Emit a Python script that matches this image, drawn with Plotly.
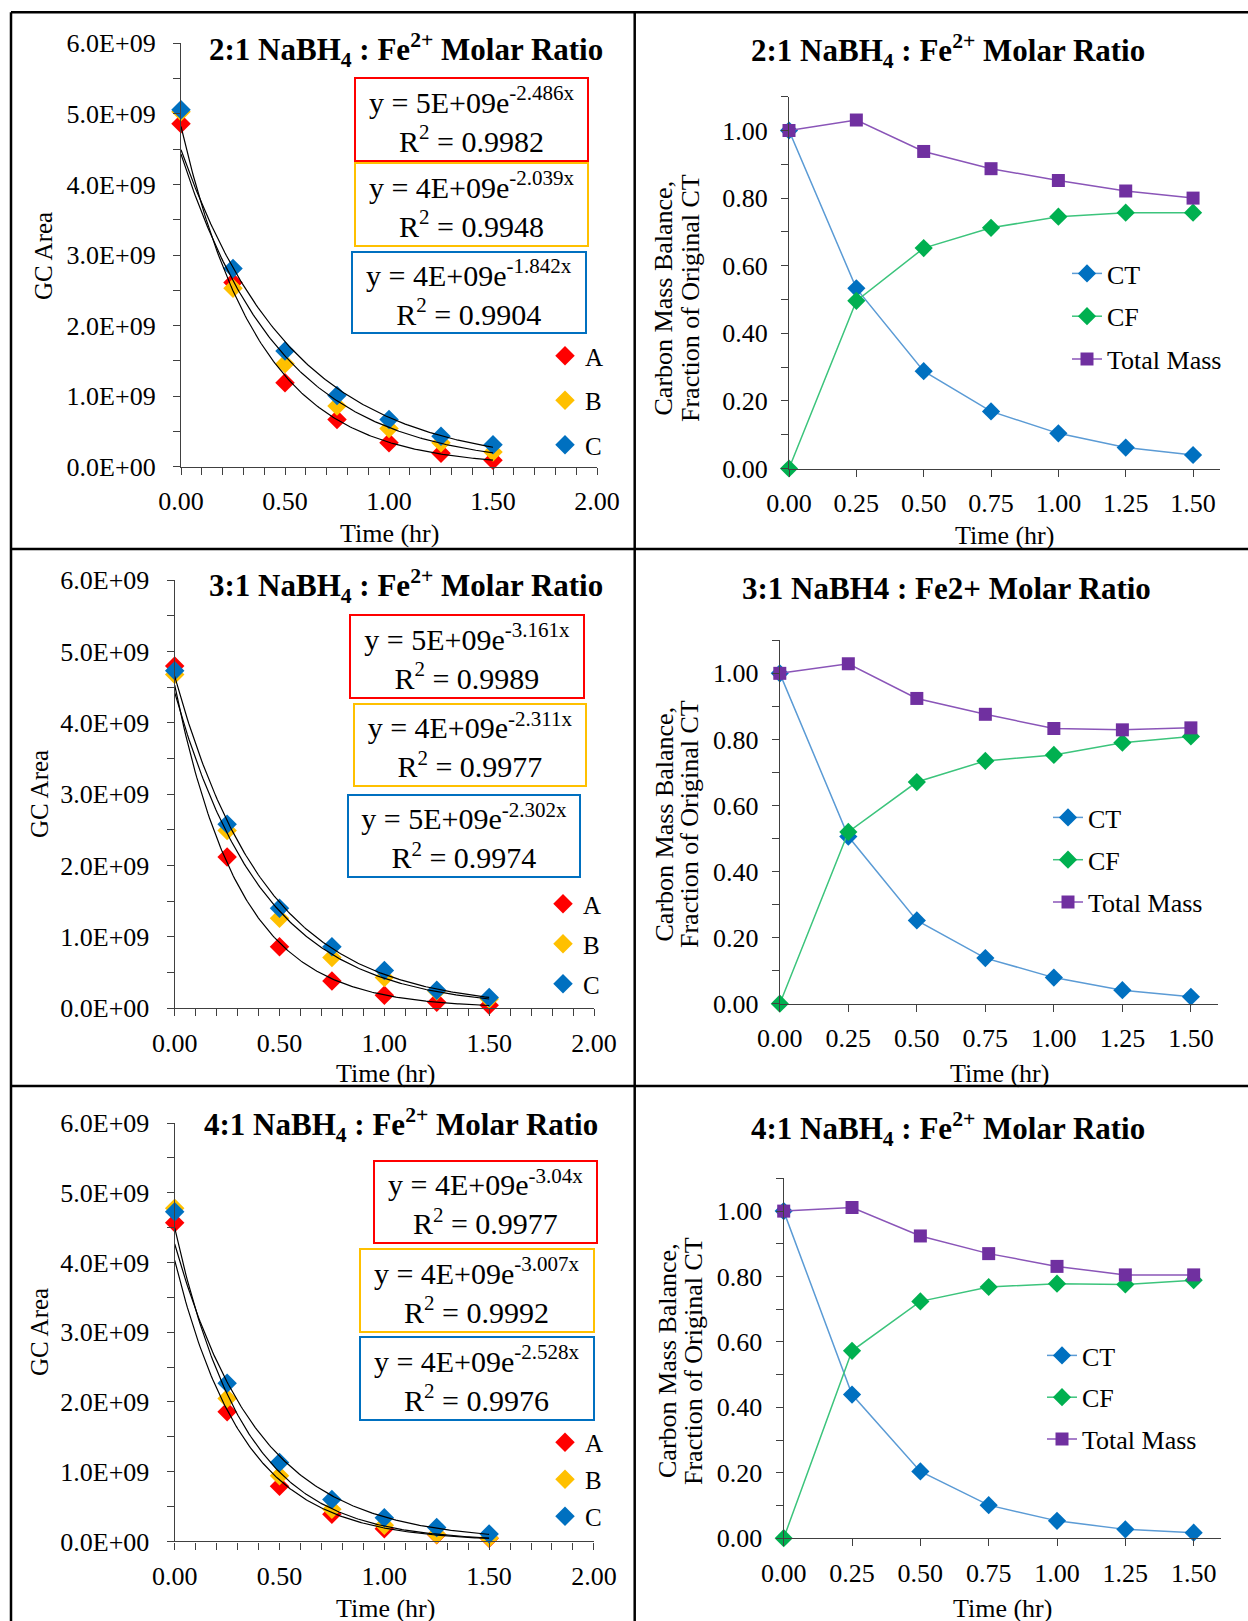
import numpy as np
import plotly.graph_objects as go

W, H = 1248, 1621
FONT = "Liberation Serif, Times New Roman, serif"

# ---------------- data ----------------
time_hr = [0.0, 0.25, 0.5, 0.75, 1.0, 1.25, 1.5]
series_names = ["A", "B", "C"]
series_colors = ["#FF0000", "#FFC000", "#0070C0"]

# GC area, 2:1 NaBH4:Fe2+
gc21_A = [4.86e9, 2.61e9, 1.19e9, 0.67e9, 0.34e9, 0.19e9, 0.09e9]
gc21_B = [5.03e9, 2.53e9, 1.46e9, 0.86e9, 0.54e9, 0.34e9, 0.21e9]
gc21_C = [5.06e9, 2.81e9, 1.64e9, 1.01e9, 0.67e9, 0.43e9, 0.31e9]
# GC area, 3:1
gc31_A = [4.80e9, 2.12e9, 0.86e9, 0.38e9, 0.18e9, 0.085e9, 0.04e9]
gc31_B = [4.68e9, 2.49e9, 1.26e9, 0.71e9, 0.43e9, 0.24e9, 0.13e9]
gc31_C = [4.73e9, 2.58e9, 1.40e9, 0.86e9, 0.53e9, 0.25e9, 0.15e9]
# GC area, 4:1
gc41_A = [4.57e9, 1.86e9, 0.79e9, 0.39e9, 0.18e9, 0.095e9, 0.045e9]
gc41_B = [4.78e9, 2.05e9, 0.94e9, 0.46e9, 0.23e9, 0.10e9, 0.05e9]
gc41_C = [4.73e9, 2.27e9, 1.13e9, 0.60e9, 0.34e9, 0.20e9, 0.105e9]

# trendline equation labels (as printed on the chart)
eq21 = [("5E+09", "-2.486x", "0.9982"), ("4E+09", "-2.039x", "0.9948"), ("4E+09", "-1.842x", "0.9904")]
eq31 = [("5E+09", "-3.161x", "0.9989"), ("4E+09", "-2.311x", "0.9977"), ("5E+09", "-2.302x", "0.9974")]
eq41 = [("4E+09", "-3.04x", "0.9977"), ("4E+09", "-3.007x", "0.9992"), ("4E+09", "-2.528x", "0.9976")]

# Carbon mass balance (fraction of original CT)
mb_names = ["CT", "CF", "Total Mass"]
mb21_CT = [1.0, 0.533, 0.288, 0.169, 0.104, 0.062, 0.040]
mb21_CF = [0.0, 0.496, 0.652, 0.712, 0.745, 0.757, 0.757]
mb21_TM = [1.0, 1.031, 0.938, 0.887, 0.852, 0.821, 0.800]
mb31_CT = [1.0, 0.506, 0.252, 0.138, 0.079, 0.041, 0.021]
mb31_CF = [0.0, 0.520, 0.671, 0.735, 0.753, 0.790, 0.809]
mb31_TM = [1.0, 1.029, 0.924, 0.876, 0.833, 0.829, 0.835]
mb41_CT = [1.0, 0.439, 0.204, 0.101, 0.053, 0.027, 0.017]
mb41_CF = [0.0, 0.573, 0.724, 0.768, 0.778, 0.776, 0.789]
mb41_TM = [1.0, 1.011, 0.924, 0.870, 0.831, 0.805, 0.805]

gc_titles = ["<b>2:1 NaBH<sub>4</sub> : Fe<sup>2+</sup> Molar Ratio</b>",
             "<b>3:1 NaBH<sub>4</sub> : Fe<sup>2+</sup> Molar Ratio</b>",
             "<b>4:1 NaBH<sub>4</sub> : Fe<sup>2+</sup> Molar Ratio</b>"]
mb_titles = ["<b>2:1 NaBH<sub>4</sub> : Fe<sup>2+</sup> Molar Ratio</b>",
             "<b>3:1 NaBH4 : Fe2+ Molar Ratio</b>",
             "<b>4:1 NaBH<sub>4</sub> : Fe<sup>2+</sup> Molar Ratio</b>"]
gc_yticks = [0, 1e9, 2e9, 3e9, 4e9, 5e9, 6e9]
gc_yticktext = ["%.1E" % v for v in gc_yticks]
mb_ytitle_lines = ["Carbon Mass Balance,", "Fraction of Original CT"]

# ---------------- layout geometry (pixels) ----------------
def fx(px):
    return px / W

def fy(py):
    return 1 - py / H

# plot areas: x-left, x-right, y-bottom, y-top (pixels)
gc_boxes = [(181, 597, 466.7, 43.3), (174.7, 594, 1008.2, 580.3), (174.7, 593.9, 1541.4, 1123.1)]
mb_boxes = [(789, 1220, 468.5, 96.7), (779.8, 1218.3, 1003.7, 640.3), (783.7, 1221, 1538.2, 1178.4)]

gc_title_pos = [(406, 50), (406, 586), (401, 1125)]
mb_title_pos = [(948, 51), (946, 588), (948, 1129)]
gc_ytitle_pos = [(43, 256), (39, 794), (39, 1332)]
gc_xtitle_pos = [(389, 533), (385, 1073), (385, 1608)]
mb_ytitle_pos = [((663.5, 691), 298), ((663.5, 689), 824), ((667, 693), 1361)]
mb_xtitle_pos = [(1004, 535), (999, 1073), (1002, 1608)]
eq_boxes = [
    [(354.3, 587.8, 77.9, 160.6), (354.3, 587.8, 163.4, 246.2), (351.8, 585.7, 251.8, 333.2)],
    [(350.2, 584.5, 614.7, 697.8), (353.5, 585.7, 703.8, 786.2), (348.2, 580.4, 795.0, 876.7)],
    [(373.5, 596.7, 1161.1, 1243.2), (360.4, 593.9, 1249.1, 1331.9), (360.4, 593.9, 1337.1, 1419.9)],
]
gc_leg_pos = [(545, 333), (543, 881), (545, 1419.5)]
gc_leg_gap = [9, 4.5, 1.5]
mb_leg_pos = [(1067, 250), (1048, 794), (1042, 1332)]
mb_leg_gap = [6, 5.5, 5]

gc_data = [[gc21_A, gc21_B, gc21_C], [gc31_A, gc31_B, gc31_C], [gc41_A, gc41_B, gc41_C]]
mb_data = [[mb21_CT, mb21_CF, mb21_TM], [mb31_CT, mb31_CF, mb31_TM], [mb41_CT, mb41_CF, mb41_TM]]
eqs = [eq21, eq31, eq41]
mb_marker_colors = ["#0070C0", "#00B050", "#7030A0"]
mb_line_colors = ["#5B9BD5", "#3CC47C", "#8A55B8"]
mb_symbols = ["diamond", "diamond", "square"]

AXC = "#404040"
TICK = 26
fig = go.Figure()
layout = dict(width=W, height=H, margin=dict(l=0, r=0, t=0, b=0, autoexpand=False),
              paper_bgcolor="white", plot_bgcolor="white",
              font=dict(family=FONT, color="black"), annotations=[], shapes=[])

def axname(k):
    return ("xaxis" if k == 1 else "xaxis%d" % k), ("yaxis" if k == 1 else "yaxis%d" % k)

def ref(k):
    return ("x" if k == 1 else "x%d" % k), ("y" if k == 1 else "y%d" % k)

def legname(k):
    return "legend" if k == 1 else "legend%d" % k

def ann(text, x, y, size, angle=0):
    return dict(text=text, x=fx(x), y=fy(y), xref="paper", yref="paper", showarrow=False,
                textangle=angle, xanchor="center", yanchor="middle",
                font=dict(family=FONT, size=size, color="black"))

tickfont = dict(family=FONT, size=TICK, color="black")
xdense = np.linspace(0, 1.5, 200)

for i in range(3):
    # ---------- GC panel ----------
    k = 2 * i + 1
    xa, ya = axname(k)
    xr, yr = ref(k)
    x0, x1, yb, yt = gc_boxes[i]
    layout[xa] = dict(domain=[fx(x0), fx(x1)], anchor=yr, range=[0, 2], tickmode="linear", tick0=0, dtick=0.5,
                      tickformat=".2f", ticks="outside", ticklen=7, tickcolor=AXC, tickwidth=1.2,
                      minor=dict(tick0=0, dtick=0.1, ticks="outside", ticklen=7, tickcolor=AXC, tickwidth=1.2),
                      showline=True, linecolor=AXC, linewidth=1.3, showgrid=False, zeroline=False,
                      tickfont=tickfont, ticklabelstandoff=4, automargin=False)
    layout[ya] = dict(domain=[fy(yb), fy(yt)], anchor=xr, range=[0, 6e9], tickmode="array",
                      tickvals=gc_yticks, ticktext=gc_yticktext, ticks="outside", ticklen=7, tickcolor=AXC,
                      tickwidth=1.2,
                      minor=dict(tick0=0, dtick=0.5e9, ticks="outside", ticklen=7, tickcolor=AXC, tickwidth=1.2),
                      showline=True, linecolor=AXC, linewidth=1.3, showgrid=False, zeroline=False,
                      tickfont=tickfont, ticklabelstandoff=12, automargin=False)
    for j in range(3):
        fig.add_trace(go.Scatter(x=time_hr, y=gc_data[i][j], mode="markers", name=series_names[j],
                                 marker=dict(symbol="diamond", size=15, color=series_colors[j]),
                                 xaxis=xr, yaxis=yr, cliponaxis=False, legend=legname(k),
                                 legendgroup="g%d_%d" % (k, j)))
    for j in range(3):
        b, lna = np.polyfit(np.array(time_hr), np.log(np.array(gc_data[i][j])), 1)
        fig.add_trace(go.Scatter(x=xdense, y=np.exp(lna + b * xdense), mode="lines", showlegend=False,
                                 line=dict(color="black", width=1.2), xaxis=xr, yaxis=yr, hoverinfo="skip"))
    lx, ly = gc_leg_pos[i]
    layout[legname(k)] = dict(x=fx(lx), y=fy(ly), xref="container", yref="container",
                              xanchor="left", yanchor="top", bgcolor="rgba(0,0,0,0)",
                              font=dict(family=FONT, size=25, color="black"), tracegroupgap=gc_leg_gap[i],
                              itemclick=False)
    tx, ty = gc_title_pos[i]
    layout["annotations"].append(ann(gc_titles[i], tx, ty, 31))
    tx, ty = gc_ytitle_pos[i]
    layout["annotations"].append(ann("GC Area", tx, ty, 25, angle=-90))
    tx, ty = gc_xtitle_pos[i]
    layout["annotations"].append(ann("Time (hr)", tx, ty, 26))
    for j in range(3):
        bx0, bx1, by0, by1 = eq_boxes[i][j]
        a, e, r2 = eqs[i][j]
        txt = "y = %se<sup>%s</sup><br>R<sup>2</sup> = %s" % (a, e, r2)
        pad = 1
        layout["annotations"].append(dict(text=txt, x=fx((bx0 + bx1) / 2), y=fy((by0 + by1) / 2),
                                          xref="paper", yref="paper", showarrow=False,
                                          xanchor="center", yanchor="middle", align="center",
                                          width=bx1 - bx0 - 2 * pad - 2, height=by1 - by0 - 2 * pad - 2,
                                          borderpad=pad, bordercolor=series_colors[j], borderwidth=2,
                                          bgcolor="white",
                                          font=dict(family=FONT, size=30, color="black")))

    # ---------- mass balance panel ----------
    k = 2 * i + 2
    xa, ya = axname(k)
    xr, yr = ref(k)
    x0, x1, yb, yt = mb_boxes[i]
    layout[xa] = dict(domain=[fx(x0), fx(x1)], anchor=yr, range=[0, 1.6], tickmode="array",
                      tickvals=time_hr, ticktext=["%.2f" % v for v in time_hr],
                      ticks="outside", ticklen=7, tickcolor=AXC, tickwidth=1.2,
                      showline=True, linecolor=AXC, linewidth=1.3, showgrid=False, zeroline=False,
                      tickfont=tickfont, ticklabelstandoff=4, automargin=False)
    layout[ya] = dict(domain=[fy(yb), fy(yt)], anchor=xr, range=[0, 1.1], tickmode="linear", tick0=0, dtick=0.2,
                      tickformat=".2f", ticks="outside", ticklen=7, tickcolor=AXC, tickwidth=1.2,
                      minor=dict(tick0=0, dtick=0.1, ticks="outside", ticklen=7, tickcolor=AXC, tickwidth=1.2),
                      showline=True, linecolor=AXC, linewidth=1.3, showgrid=False, zeroline=False,
                      tickfont=tickfont, ticklabelstandoff=8, automargin=False)
    for j in range(3):
        fig.add_trace(go.Scatter(x=time_hr, y=mb_data[i][j], mode="lines+markers", name=mb_names[j],
                                 marker=dict(symbol=mb_symbols[j], size=14 if j < 2 else 13,
                                             color=mb_marker_colors[j]),
                                 line=dict(color=mb_line_colors[j], width=1.5),
                                 xaxis=xr, yaxis=yr, cliponaxis=False, legend=legname(k),
                                 legendgroup="g%d_%d" % (k, j)))
    lx, ly = mb_leg_pos[i]
    layout[legname(k)] = dict(x=fx(lx), y=fy(ly), xref="container", yref="container",
                              xanchor="left", yanchor="top", bgcolor="rgba(0,0,0,0)",
                              font=dict(family=FONT, size=26, color="black"), tracegroupgap=mb_leg_gap[i],
                              itemclick=False)
    tx, ty = mb_title_pos[i]
    layout["annotations"].append(ann(mb_titles[i], tx, ty, 31))
    (tx1, tx2), ty = mb_ytitle_pos[i]
    layout["annotations"].append(ann(mb_ytitle_lines[0], tx1, ty, 26, angle=-90))
    layout["annotations"].append(ann(mb_ytitle_lines[1], tx2, ty, 26, angle=-90))
    tx, ty = mb_xtitle_pos[i]
    layout["annotations"].append(ann("Time (hr)", tx, ty, 26))

# ---------------- panel frame lines ----------------
line_style = dict(color="black", width=2.5)
frame = [
    (11, 12.3, W, 12.3),      # top
    (11, 12.3, 11, H),        # left
    (634.7, 12.3, 634.7, H),  # middle
    (11, 549, W, 549),        # first divider
    (11, 1086, W, 1086),      # second divider
]
for (ax0, ay0, ax1, ay1) in frame:
    layout["shapes"].append(dict(type="line", xref="paper", yref="paper", x0=fx(ax0), y0=fy(ay0),
                                 x1=fx(ax1), y1=fy(ay1), line=line_style))

fig.update_layout(**layout)
fig.write_html("out.html")
